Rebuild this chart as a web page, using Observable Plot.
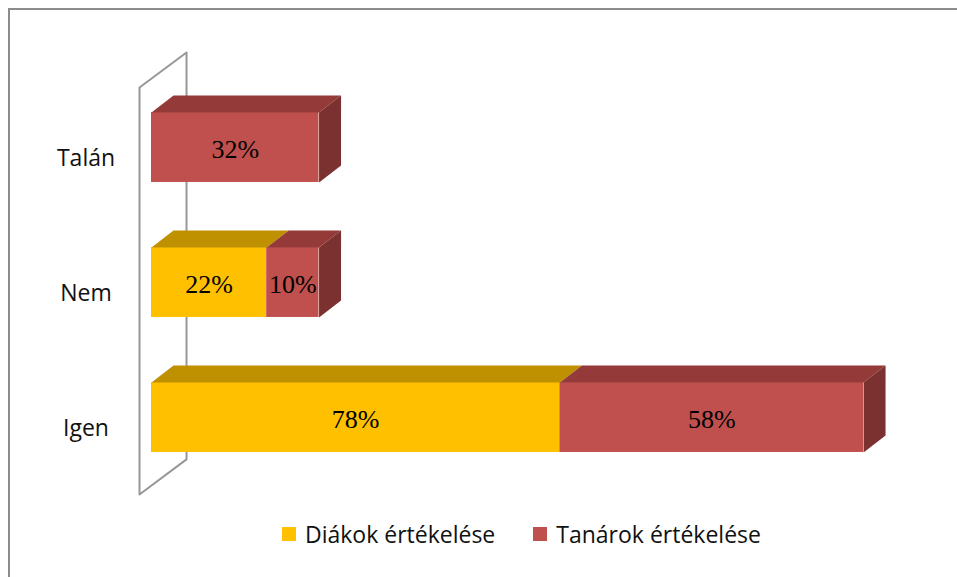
<!DOCTYPE html>
<html><head><meta charset="utf-8">
<script src="https://cdn.jsdelivr.net/npm/d3@7"></script>
<script src="https://cdn.jsdelivr.net/npm/@observablehq/plot@0.6"></script>
<style>
html,body{margin:0;padding:0;background:#fff;overflow:hidden;}
#wrap{position:relative;width:957px;height:577px;}
#frame{position:absolute;left:8px;top:8px;width:1000px;height:600px;border-left:2px solid #8c8c8c;border-top:2px solid #8c8c8c;}
#chart{position:absolute;left:0;top:0;}
#legend{position:absolute;left:282px;top:518px;display:flex;align-items:center;font-family:"Open Sans";font-size:23px;color:#111;white-space:nowrap;}
.sw{width:14px;height:14px;margin-right:9px;}
.item{display:flex;align-items:center;margin-right:38px;}
</style></head><body>
<div id="wrap"><div id="frame"></div><div id="chart"></div><div id="legend"></div></div>
<script>
const categories = ["Igen", "Nem", "Talán"];
const seriesNames = ["Diákok értékelése", "Tanárok értékelése"];
const diakok = [78, 22, 0];
const tanarok = [58, 10, 32];
const frontColors = ["#FFC000", "#C0504D"];
const topColors = ["#BF9000", "#943B39"];
const sideColors = ["#8C6A00", "#7B3130"];

// 3D geometry (data units)
const half = 0.259, depthX = 4.2, depthY = 0.126;
const wallFrontX = -2.29, wallBackX = 6.69, wallTop = 2.444, wallBottom = -0.57, wallDY = 0.26;

const series = [diakok, tanarok];
const segments = [];
categories.forEach((c, i) => {
  let acc = 0;
  series.forEach((vals, s) => {
    const v = vals[i];
    if (v > 0) segments.push({cat: c, s, value: v, x1: acc, x2: acc + v, yc: i});
    acc += v;
  });
});
// last segment per row gets a side face
const lastByRow = new Map();
segments.forEach(d => lastByRow.set(d.yc, d));

const polys = [];
segments.forEach((d, k) => {
  const yt = d.yc + half, yb = d.yc - half;
  const idT = "t" + k;
  [[d.x1, yt], [d.x2, yt], [d.x2 + depthX, yt + depthY], [d.x1 + depthX, yt + depthY]]
    .forEach(([x, y]) => polys.push({id: idT, x, y, color: topColors[d.s]}));
  if (lastByRow.get(d.yc) === d) {
    const idS = "s" + k;
    [[d.x2, yt], [d.x2 + depthX, yt + depthY], [d.x2 + depthX, yb + depthY], [d.x2, yb]]
      .forEach(([x, y]) => polys.push({id: idS, x, y, color: sideColors[d.s]}));
  }
});

const wall = [
  {x: wallFrontX, y: wallBottom},
  {x: wallFrontX, y: wallTop},
  {x: wallBackX, y: wallTop + wallDY},
  {x: wallBackX, y: wallBottom + wallDY},
  {x: wallFrontX, y: wallBottom}
];

const chart = Plot.plot({
  width: 957,
  height: 515,
  marginLeft: 151,
  marginRight: 73,
  marginTop: 0,
  marginBottom: 0,
  style: {background: "none", overflow: "visible"},
  x: {domain: [0, 140], range: [151, 884], axis: null},
  y: {domain: [-0.7, 2.7], range: [511.5, 52.5], axis: null},
  color: {type: "identity"},
  marks: [
    Plot.line(wall, {x: "x", y: "y", stroke: "#979797", strokeWidth: 2, curve: "linear"}),
    Plot.rect(segments, {x1: "x1", x2: "x2", y1: d => d.yc - half, y2: d => d.yc + half, fill: d => frontColors[d.s]}),
    Plot.line(polys, {x: "x", y: "y", z: "id", fill: "color", stroke: "none", curve: "linear"}),
    Plot.text(segments, {x: d => (d.x1 + d.x2) / 2, y: "yc", text: d => d.value + "%", fontSize: 26, fontFamily: "Liberation Serif", fill: "#000", dy: 2}),
    Plot.axisY({ticks: [0, 1, 2], tickFormat: i => categories[i], tickSize: 0, tickPadding: 65.5, textAnchor: "middle", fontSize: 23, fontFamily: "Open Sans", fill: "#111", dy: 11, label: null})
  ]
});
document.getElementById("chart").appendChild(chart);

const legend = document.getElementById("legend");
seriesNames.forEach((name, s) => {
  const item = document.createElement("div");
  item.className = "item";
  const sw = document.createElement("div");
  sw.className = "sw";
  sw.style.background = frontColors[s];
  const t = document.createElement("span");
  t.textContent = name;
  item.appendChild(sw); item.appendChild(t);
  legend.appendChild(item);
});
</script>
</body></html>
